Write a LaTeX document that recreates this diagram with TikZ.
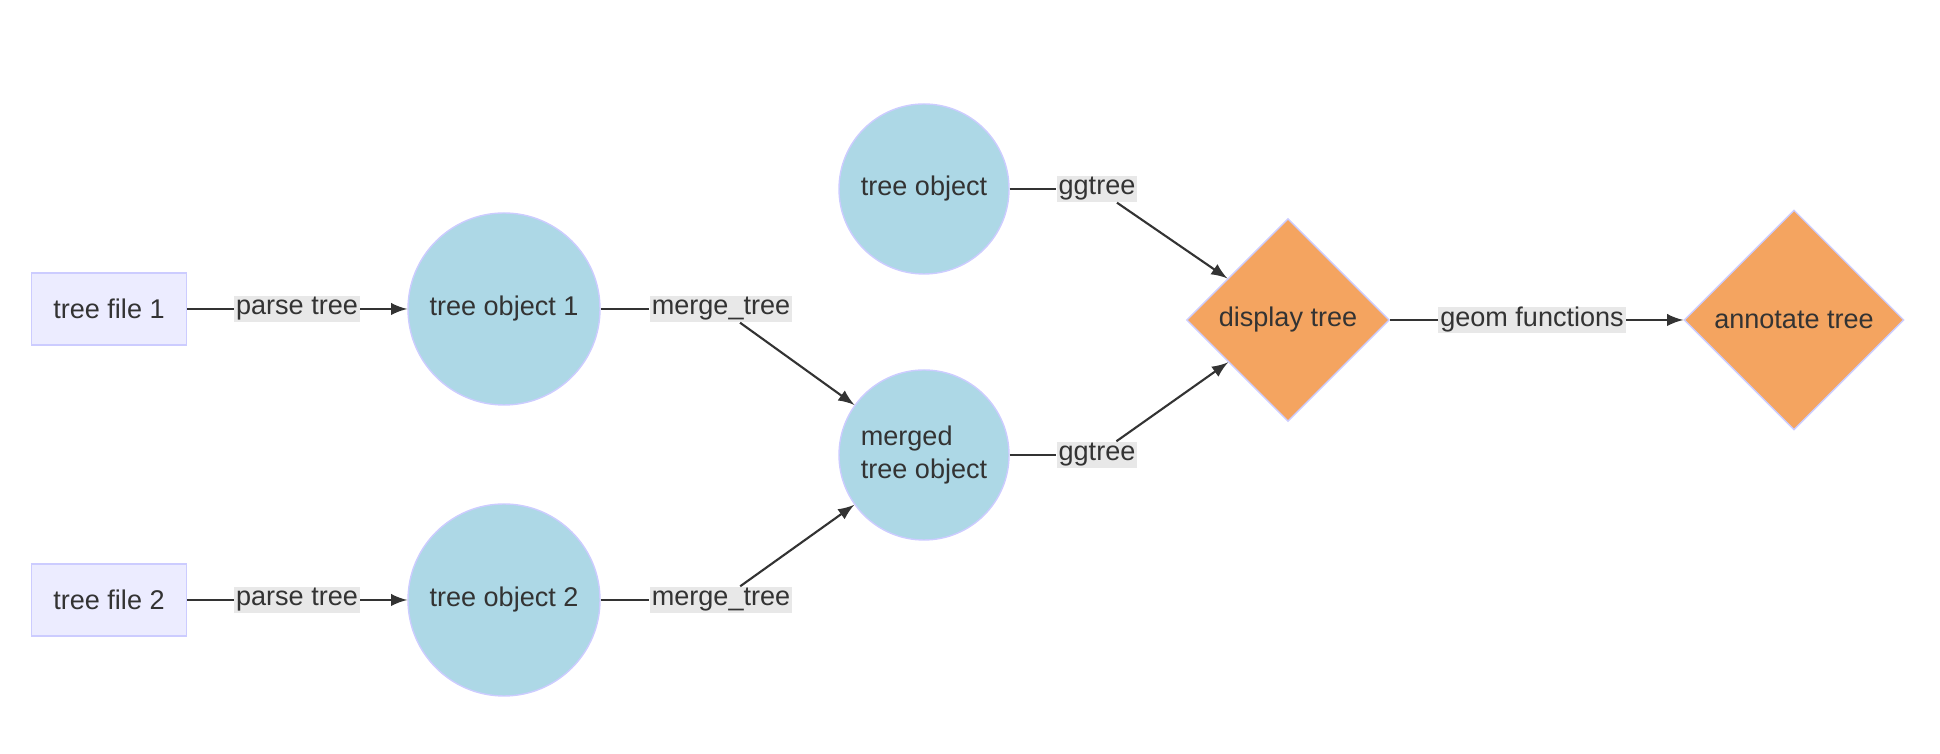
\documentclass[tikz,border=0pt]{standalone}
\usepackage{fontspec}
\setmainfont{Liberation Sans}
\usetikzlibrary{shapes.geometric}

\definecolor{filebg}{HTML}{ECECFF}
\definecolor{nodeline}{HTML}{CCCCFF}
\definecolor{objbg}{HTML}{ADD8E6}
\definecolor{plotbg}{HTML}{F4A460}
\definecolor{labelbg}{HTML}{E8E8E8}
\definecolor{ink}{HTML}{333333}

\begin{document}
\begin{tikzpicture}[
  font=\fontsize{7.7}{9.5}\selectfont, text=ink,
  file/.style={rectangle,fill=filebg,draw=nodeline,line width=0.4pt,minimum width=1.55cm,minimum height=0.72cm,inner sep=0pt},
  obj/.style={circle,fill=objbg,draw=nodeline,line width=0.4pt,inner sep=0pt},
  plot/.style={diamond,aspect=1,fill=plotbg,draw=nodeline,line width=0.4pt,inner sep=0pt},
  lbl/.style={fill=labelbg,inner xsep=0.5pt,inner ysep=0pt,minimum height=0.26cm},
  link/.style={draw=ink,line width=0.6pt}
]
\useasboundingbox (0,0) rectangle (19.40,7.54);

%put the tree files on the left
\node[file] (f1) at (1.09,4.45) {tree file 1};
\node[file] (f2) at (1.09,1.54) {tree file 2};

%put the tree objects next
\node[obj,minimum size=1.92cm] (o1) at (5.04,4.45) {tree object 1};
\node[obj,minimum size=1.92cm] (o2) at (5.04,1.54) {tree object 2};
\node[obj,minimum size=1.70cm] (ot) at (9.24,5.65) {tree object};
\node[obj,minimum size=1.70cm,align=left] (mg) at (9.24,2.99) {merged\\tree object};

%put the plots on the right
\node[plot,minimum width=2.03cm,minimum height=2.03cm] (dt) at (12.88,4.34) {display tree};
\node[plot,minimum width=2.20cm,minimum height=2.20cm] (at) at (17.94,4.34) {annotate tree};

%edge labels
\node[lbl] (p1) at (2.97,4.45) {parse tree};
\node[lbl] (p2) at (2.97,1.54) {parse tree};
\node[lbl] (m1) at (7.21,4.45) {merge\_tree};
\node[lbl] (m2) at (7.21,1.54) {merge\_tree};
\node[lbl] (g1) at (10.97,5.65) {ggtree};
\node[lbl] (g2) at (10.97,2.99) {ggtree};
\node[lbl] (gf) at (15.32,4.34) {geom functions};

\draw[link] (f1) -- (p1);
\draw[link,-latex] (p1) -- (o1);
\draw[link] (f2) -- (p2);
\draw[link,-latex] (p2) -- (o2);

\draw[link] (o1) -- (m1);
\draw[link,-latex] (m1) -- (mg);
\draw[link] (o2) -- (m2);
\draw[link,-latex] (m2) -- (mg);

\draw[link] (ot) -- (g1);
\draw[link,-latex] (g1) -- (dt);
\draw[link] (mg) -- (g2);
\draw[link,-latex] (g2) -- (dt);

\draw[link] (dt) -- (gf);
\draw[link,-latex] (gf) -- (at);

\end{tikzpicture}
\end{document}
